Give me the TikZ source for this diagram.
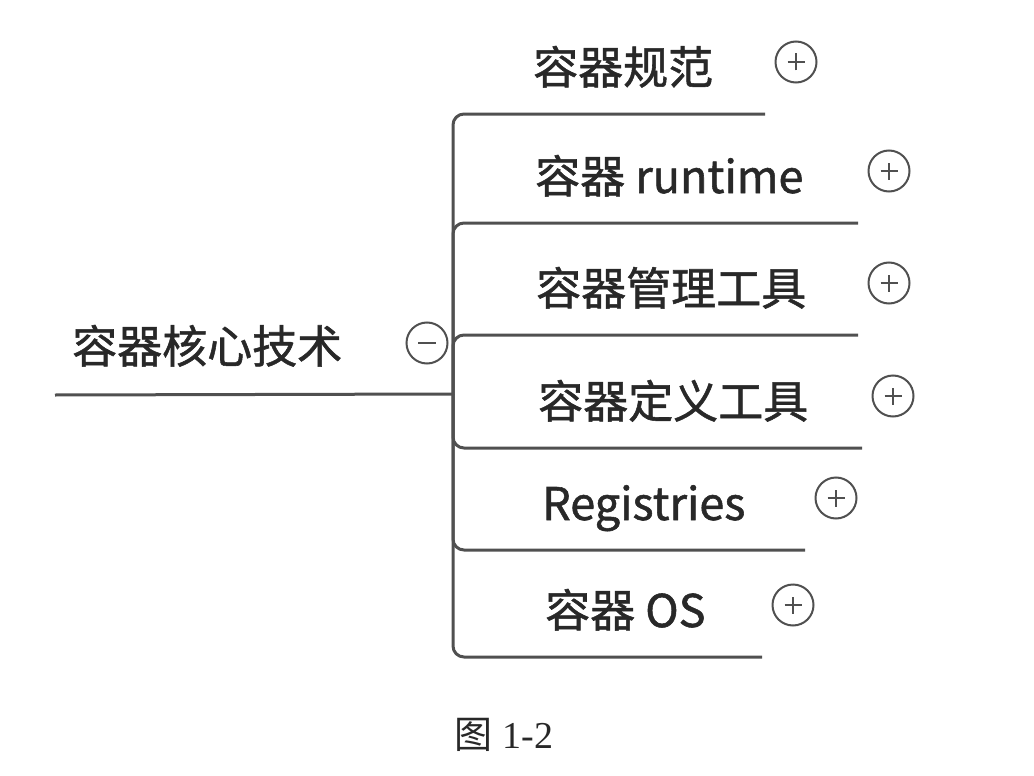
\documentclass[tikz,border=0pt]{standalone}
\usepackage{fontspec}
\usepackage{tikz}
\newfontfamily\cjk[FakeBold=1.2]{Noto Sans CJK SC}
\newfontfamily\cjkPlain{Noto Sans CJK SC}
\newfontfamily\captionSerif{Liberation Serif}
\definecolor{lineGray}{RGB}{80,80,80}
\definecolor{textGray}{RGB}{40,40,40}
\newcommand{\topicFont}{\cjk\fontsize{45pt}{45pt}\selectfont}
\newcommand{\captionFont}{\captionSerif\fontsize{38pt}{38pt}\selectfont}
\tikzstyle{mindMap} = [x = 1pt, y = -1pt]
\tikzstyle{branchLine} = [draw=lineGray, line width=3pt, rounded corners=11pt]
\tikzstyle{topicText} = [font=\topicFont, text=textGray, inner sep=0pt, anchor=base west]
\tikzstyle{foldSign} = [circle, draw=lineGray, line width=2pt, minimum size=41pt, inner sep=0pt]
\tikzstyle{signLine} = [draw=lineGray, line width=2.6pt]
\tikzstyle{plusSign} = [foldSign, path picture={
    \draw [signLine] ([xshift=-8.5pt]path picture bounding box.center) -- ([xshift=8.5pt]path picture bounding box.center);
    \draw [signLine] ([yshift=-8.5pt]path picture bounding box.center) -- ([yshift=8.5pt]path picture bounding box.center);}]
\tikzstyle{minusSign} = [foldSign, path picture={
    \draw [signLine] ([xshift=-9pt]path picture bounding box.center) -- ([xshift=9pt]path picture bounding box.center);}]
% name, text x, line y, line end x, text
\newcommand{\subTopic}[5]{
  \node [topicText] (#1) at (#2, #3 - 30) {#5};
  \coordinate (#1End) at (#4, #3);
  \draw [branchLine] (junction) |- (#1End);
  \node [plusSign] (#1Fold) at (#4 + 31, #3 - 52) {};
}

\begin{document}
\begin{tikzpicture}[mindMap]
              \useasboundingbox (0,0) rectangle (1034,776);
              \node [topicText] (root) at (72, 363) {容器核心技术};
              \coordinate (rootStart) at (55, 395);
              \coordinate (junction) at (453, 394);
              \draw [branchLine] (rootStart) -- (junction);
              \node [minusSign] (rootFold) at (427, 343) {};

              \subTopic{spec}{533}{114}{765}{容器规范}
              \subTopic{runtime}{535}{223}{858}{容器 runtime}
              \subTopic{manage}{536}{335}{858}{容器管理工具}
              \subTopic{define}{538}{448}{862}{容器定义工具}
              \subTopic{registry}{542}{550}{805}{Registries}
              \subTopic{os}{545}{657}{762}{容器 OS}

              \node [font=\captionFont, text=textGray] (figCaption) at (504, 735) {{\cjkPlain 图} 1-2};
            \end{tikzpicture}
\end{document}
